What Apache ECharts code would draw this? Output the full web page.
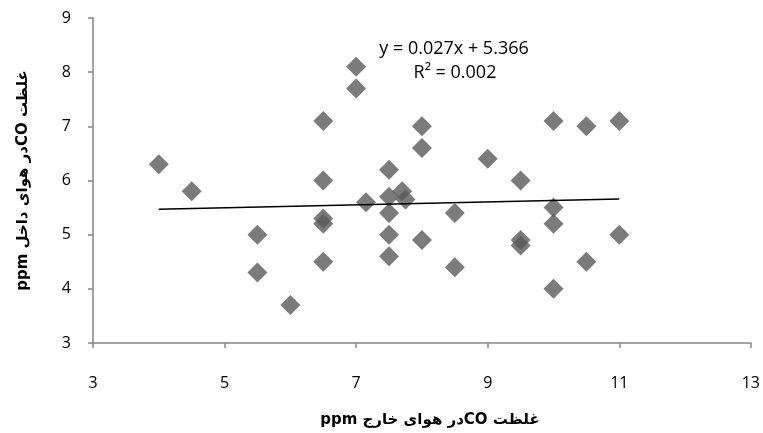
<!DOCTYPE html>
<html>
<head>
<meta charset="utf-8">
<script src="https://cdn.jsdelivr.net/npm/echarts@6/dist/echarts.min.js"></script>
<style>
html,body{margin:0;padding:0;background:#fff;}
#chart{width:763px;height:433px;}
</style>
</head>
<body>
<div id="chart"></div>
<script>
// Outdoor CO (ppm) vs indoor CO (ppm)
const outdoorCO = [4, 4.5, 5.5, 5.5, 6, 6.5, 6.5, 6.5, 6.5, 6.5, 7, 7, 7.15, 7.5, 7.5, 7.5, 7.5, 7.5, 7.7, 7.75, 8, 8, 8, 8.5, 8.5, 9, 9.5, 9.5, 9.5, 10, 10, 10, 10, 10.5, 10.5, 11, 11];
const indoorCO  = [6.3, 5.8, 5.0, 4.3, 3.7, 7.1, 6.0, 5.3, 5.2, 4.5, 8.1, 7.7, 5.6, 6.2, 5.7, 5.4, 5.0, 4.6, 5.8, 5.65, 7.0, 6.6, 4.9, 5.4, 4.4, 6.4, 6.0, 4.9, 4.8, 7.1, 5.5, 5.2, 4.0, 7.0, 4.5, 7.1, 5.0];
const trendX = [4, 11];
const trendY = [5.47, 5.66];
const xTicks = [3, 5, 7, 9, 11, 13];
const yTicks = [3, 4, 5, 6, 7, 8, 9];
const equationText = 'y = 0.027x + 5.366';
const r2Text = 'R² = 0.002';
const xTitle = '\u202Bغلظت COدر هوای خارج ppm\u202C';
const yTitle = '\u202Bغلظت COدر هوای داخل ppm\u202C';

const points = outdoorCO.map((x, i) => [x, indoorCO[i]]);
const trend = trendX.map((x, i) => [x, trendY[i]]);

const chart = echarts.init(document.getElementById('chart'), null, {renderer: 'canvas'});
const axisColor = '#868686';
const numFont = '"Open Sans", "Liberation Sans", sans-serif';
chart.setOption({
  animation: false,
  grid: {left: 93, right: 11, top: 18, bottom: 90, containLabel: false},
  xAxis: {
    type: 'value', min: xTicks[0], max: xTicks[xTicks.length - 1], interval: 2,
    axisLine: {show: true, lineStyle: {color: axisColor, width: 1.5}},
    axisTick: {show: true, length: 5, lineStyle: {color: axisColor, width: 1.5}},
    axisLabel: {color: '#000', fontSize: 16, fontFamily: numFont, margin: 32},
    splitLine: {show: false},
    name: xTitle, nameLocation: 'middle', nameGap: 70,
    nameTextStyle: {color: '#000', fontSize: 15, fontWeight: 'bold', fontFamily: '"DejaVu Sans", sans-serif', padding: [0, 0, 0, 16]}
  },
  yAxis: {
    type: 'value', min: yTicks[0], max: yTicks[yTicks.length - 1], interval: 1,
    axisLine: {show: true, lineStyle: {color: axisColor, width: 1.5}},
    axisTick: {show: true, length: 5, lineStyle: {color: axisColor, width: 1.5}},
    axisLabel: {color: '#000', fontSize: 16, fontFamily: numFont, margin: 22},
    splitLine: {show: false},
    name: yTitle, nameLocation: 'middle', nameGap: 62, nameRotate: 90,
    nameTextStyle: {color: '#000', fontSize: 15, fontWeight: 'bold', fontFamily: '"DejaVu Sans", sans-serif'}
  },
  series: [
    {
      type: 'scatter', data: points, symbol: 'diamond', symbolSize: 20,
      itemStyle: {color: '#5a5a5a'}, z: 2
    },
    {
      type: 'line', data: trend, symbol: 'none', showSymbol: false,
      lineStyle: {color: '#000', width: 1.5}, z: 3
    }
  ],
  graphic: [
    {type: 'text', x: 454, y: 49, style: {text: equationText, fill: '#000', font: '18px "Open Sans", "Liberation Sans", sans-serif', textAlign: 'center', textVerticalAlign: 'middle'}},
    {type: 'text', x: 455, y: 73, style: {text: r2Text, fill: '#000', font: '18px "Open Sans", "Liberation Sans", sans-serif', textAlign: 'center', textVerticalAlign: 'middle'}}
  ]
});
</script>
</body>
</html>
